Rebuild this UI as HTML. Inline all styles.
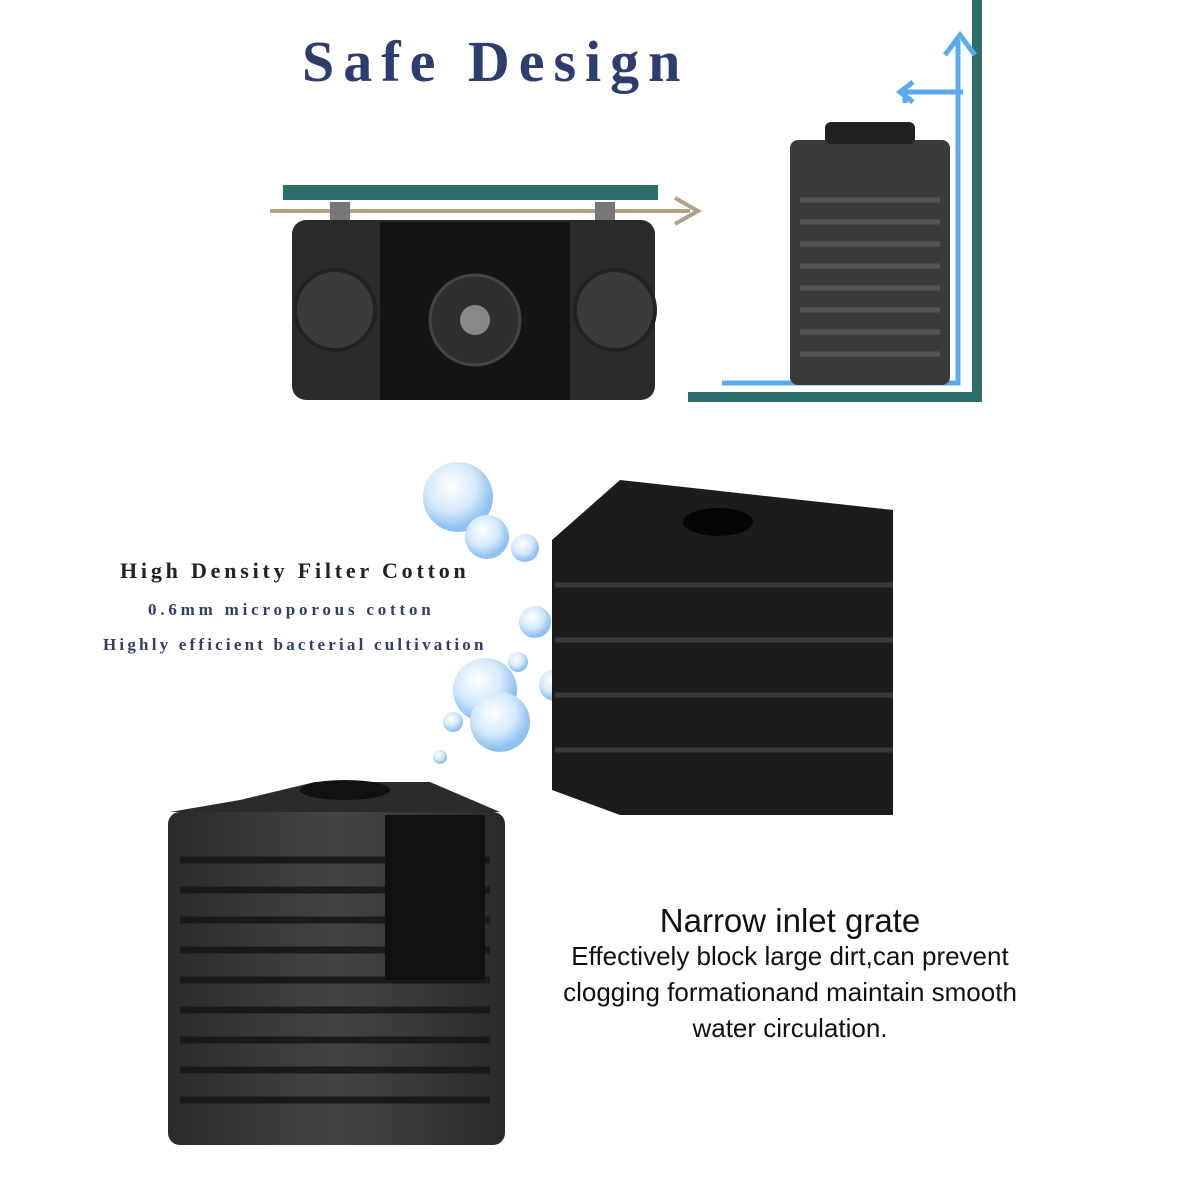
<!DOCTYPE html>
<html><head><meta charset="utf-8"><style>
body{margin:0;width:1200px;height:1200px;background:#fff;position:relative;overflow:hidden;font-family:"Liberation Sans",sans-serif}
.a{position:absolute}
.t{position:absolute;white-space:nowrap}
</style></head><body>
<div class="t" style="left:302px;top:28px;font-family:'Liberation Serif',serif;font-weight:bold;font-size:58px;color:#2f3d6e;letter-spacing:9px">Safe Design</div>
<svg class="a" style="left:0;top:0" width="1200" height="1200">
<defs>
<radialGradient id="bub" cx="40%" cy="35%" r="60%"><stop offset="0" stop-color="#fff"/><stop offset="0.6" stop-color="#d4e8fb"/><stop offset="1" stop-color="#8ec0f0"/></radialGradient>
<linearGradient id="dev" x1="0" x2="1"><stop offset="0" stop-color="#2a2a2a"/><stop offset="0.5" stop-color="#444"/><stop offset="1" stop-color="#2a2a2a"/></linearGradient>
</defs>
<rect x="283" y="185" width="375" height="15" fill="#2e6e6a"/>
<line x1="270" y1="211" x2="690" y2="211" stroke="#b59f85" stroke-width="4"/>
<polyline points="675,198 698,211 675,224" fill="none" stroke="#b59f85" stroke-width="4"/>
<rect x="330" y="202" width="20" height="22" fill="#777"/><rect x="595" y="202" width="20" height="22" fill="#777"/>
<rect x="292" y="220" width="363" height="180" rx="14" fill="#2b2b2b"/>
<rect x="380" y="222" width="190" height="178" fill="#151515"/>
<circle cx="335" cy="310" r="40" fill="#3a3a3a" stroke="#222" stroke-width="4"/>
<circle cx="615" cy="310" r="40" fill="#3a3a3a" stroke="#222" stroke-width="4"/>
<circle cx="475" cy="320" r="45" fill="#2e2e2e" stroke="#444" stroke-width="3"/>
<circle cx="475" cy="320" r="15" fill="#888"/>
<rect x="972" y="0" width="10" height="402" fill="#2e6e6a"/>
<rect x="688" y="392" width="294" height="10" fill="#2e6e6a"/>
<polyline points="722,383 958,383 958,40" fill="none" stroke="#5aaaf0" stroke-width="5"/>
<polyline points="945,55 960,35 975,55" fill="none" stroke="#5aaaf0" stroke-width="5"/>
<polyline points="963,92 905,92 905,103" fill="none" stroke="#5aaaf0" stroke-width="5"/>
<polyline points="913,82 900,92 913,102" fill="none" stroke="#5aaaf0" stroke-width="5"/>
<rect x="790" y="140" width="160" height="245" rx="8" fill="#3b3b3b"/>
<rect x="825" y="122" width="90" height="22" rx="6" fill="#222"/>
<g stroke="#555" stroke-width="5">
<line x1="800" y1="200" x2="940" y2="200"/><line x1="800" y1="222" x2="940" y2="222"/><line x1="800" y1="244" x2="940" y2="244"/><line x1="800" y1="266" x2="940" y2="266"/><line x1="800" y1="288" x2="940" y2="288"/><line x1="800" y1="310" x2="940" y2="310"/><line x1="800" y1="332" x2="940" y2="332"/><line x1="800" y1="354" x2="940" y2="354"/></g>
<circle cx="458" cy="497" r="35" fill="url(#bub)"/>
<circle cx="487" cy="537" r="22" fill="url(#bub)"/>
<circle cx="525" cy="548" r="14" fill="url(#bub)"/>
<circle cx="535" cy="622" r="16" fill="url(#bub)"/>
<circle cx="518" cy="662" r="10" fill="url(#bub)"/>
<circle cx="485" cy="690" r="32" fill="url(#bub)"/>
<circle cx="500" cy="722" r="30" fill="url(#bub)"/>
<circle cx="453" cy="722" r="10" fill="url(#bub)"/>
<circle cx="440" cy="757" r="7" fill="url(#bub)"/>
<circle cx="555" cy="685" r="16" fill="url(#bub)"/>
<polygon points="552,540 620,480 893,510 893,815 620,815 552,790" fill="#1c1c1c"/>
<ellipse cx="718" cy="522" rx="35" ry="14" fill="#050505"/>
<g stroke="#3a3a3a" stroke-width="5">
<line x1="555" y1="585" x2="893" y2="585"/><line x1="555" y1="640" x2="893" y2="640"/><line x1="555" y1="695" x2="893" y2="695"/><line x1="555" y1="750" x2="893" y2="750"/></g>
<polygon points="240,800 315,782 430,782 500,812 170,812" fill="#2b2b2b"/>
<ellipse cx="345" cy="790" rx="45" ry="10" fill="#111"/>
<rect x="168" y="812" width="337" height="333" rx="12" fill="url(#dev)"/>
<g stroke="#1a1a1a" stroke-width="7">
<line x1="180" y1="860" x2="490" y2="860"/><line x1="180" y1="890" x2="490" y2="890"/><line x1="180" y1="920" x2="490" y2="920"/><line x1="180" y1="950" x2="490" y2="950"/><line x1="180" y1="980" x2="490" y2="980"/><line x1="180" y1="1010" x2="490" y2="1010"/><line x1="180" y1="1040" x2="490" y2="1040"/><line x1="180" y1="1070" x2="490" y2="1070"/><line x1="180" y1="1100" x2="490" y2="1100"/></g>
<rect x="385" y="815" width="100" height="165" fill="#111"/>
</svg>
<div class="t" style="left:120px;top:558px;font-family:'Liberation Serif',serif;font-weight:bold;font-size:22px;color:#222;letter-spacing:3.8px">High Density Filter Cotton</div>
<div class="t" style="left:148px;top:600px;font-family:'Liberation Serif',serif;font-weight:bold;font-size:17px;color:#2f3d6e;letter-spacing:3.8px">0.6mm microporous cotton</div>
<div class="t" style="left:103px;top:635px;font-family:'Liberation Serif',serif;font-weight:bold;font-size:17px;color:#2f3d6e;letter-spacing:3.2px">Highly efficient bacterial cultivation</div>
<div class="t" style="left:540px;width:500px;top:902px;text-align:center;font-size:33px;color:#111">Narrow inlet grate</div>
<div class="t" style="left:490px;width:600px;top:938px;text-align:center;font-size:26px;line-height:36px;color:#111">Effectively block large dirt,can prevent<br>clogging formationand maintain smooth<br>water circulation.</div>
</body></html>
